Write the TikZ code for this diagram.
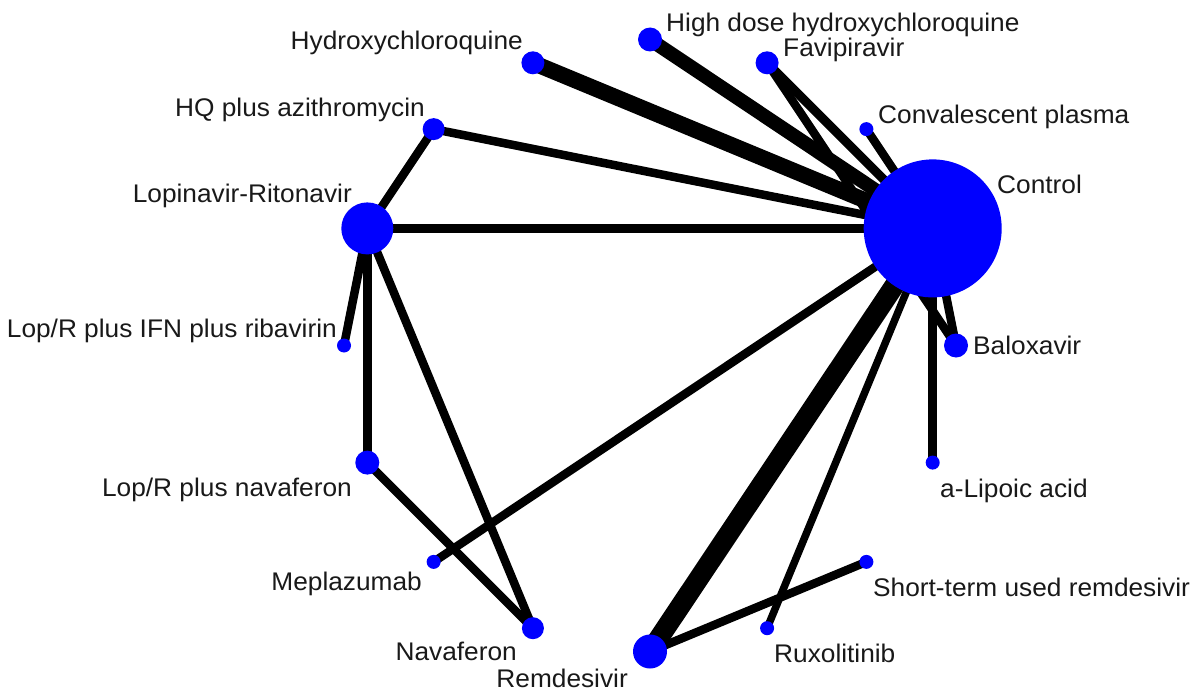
\documentclass[tikz,border=0pt]{standalone}
\usepackage{fontspec}
\setmainfont[FakeStretch=1.03]{Liberation Sans}
\usetikzlibrary{positioning,backgrounds}

\tikzset{
  trt/.style={circle,fill=blue,inner sep=0pt,minimum size=#1},
  lnk/.style={line width=#1},
  lbl/.style={font=\fontsize{25.5}{30}\selectfont,inner sep=0pt,text=black!90}
}

\begin{document}
\begin{tikzpicture}[x=1pt,y=-1pt]
  \useasboundingbox (0,0) rectangle (1199,690);
  % treatments on one circle
  \def\cx{650} \def\cy{345.5} \def\rr{306}
  \foreach \name/\ang/\dd in {ctrl/22.5/138, balox/0/24, lipo/-22.5/14, short/-45/14,
      ruxo/-67.5/14, remd/-90/34, nava/-112.5/22, mepl/-135/14, lrnav/-157.5/24,
      lrifn/180/14, lopr/157.5/52, hqaz/135/22, hcq/112.5/23, hdhcq/90/24,
      favi/67.5/23, conv/45/14}
    \node[trt=\dd pt] (\name) at ({\cx+\rr*cos(\ang)},{\cy-\rr*sin(\ang)}) {};

  % comparisons
  \begin{scope}[on background layer]
    \foreach \a/\b/\w in {ctrl/hcq/16, ctrl/hdhcq/14, ctrl/favi/9, ctrl/conv/8.5,
        ctrl/hqaz/8.5, ctrl/lopr/8.5, ctrl/balox/8.5, ctrl/lipo/8.5, ctrl/remd/20,
        ctrl/ruxo/7.5, ctrl/mepl/8.5, favi/balox/8.5, remd/short/8.5,
        lopr/hqaz/8.5, lopr/lrifn/8.5, lopr/lrnav/8.5, lopr/nava/8.5, lrnav/nava/8.5}
      \draw[lnk=\w pt] (\a.center) -- (\b.center);
  \end{scope}

  % labels
  \node[lbl,anchor=base west] (t-hdhcq) at (666,32) {High dose hydroxychloroquine};
  \node[lbl,anchor=base west] (t-favi) at (783,57) {Favipiravir};
  \node[lbl,anchor=base west] (t-conv) at (878,124) {Convalescent plasma};
  \node[lbl,anchor=base west] (t-ctrl) at (997,193) {Control};
  \node[lbl,anchor=base west] (t-balox) at (973,354) {Baloxavir};
  \node[lbl,anchor=base west] (t-lipo) at (940,497) {a-Lipoic acid};
  \node[lbl,anchor=base west] (t-short) at (873,596) {Short-term used remdesivir};
  \node[lbl,anchor=base west] (t-ruxo) at (774,662) {Ruxolitinib};
  \node[lbl,anchor=base east] (t-remd) at (628,687) {Remdesivir};
  \node[lbl,anchor=base east] (t-nava) at (517,660) {Navaferon};
  \node[lbl,anchor=base east] (t-mepl) at (422,590) {Meplazumab};
  \node[lbl,anchor=base east] (t-lrnav) at (352,496) {Lop/R plus navaferon};
  \node[lbl,anchor=base east] (t-lrifn) at (337,337) {Lop/R plus IFN plus ribavirin};
  \node[lbl,anchor=base east] (t-lopr) at (352,202) {Lopinavir-Ritonavir};
  \node[lbl,anchor=base east] (t-hqaz) at (425,117) {HQ plus azithromycin};
  \node[lbl,anchor=base east] (t-hcq) at (523,50) {Hydroxychloroquine};
\end{tikzpicture}
\end{document}
